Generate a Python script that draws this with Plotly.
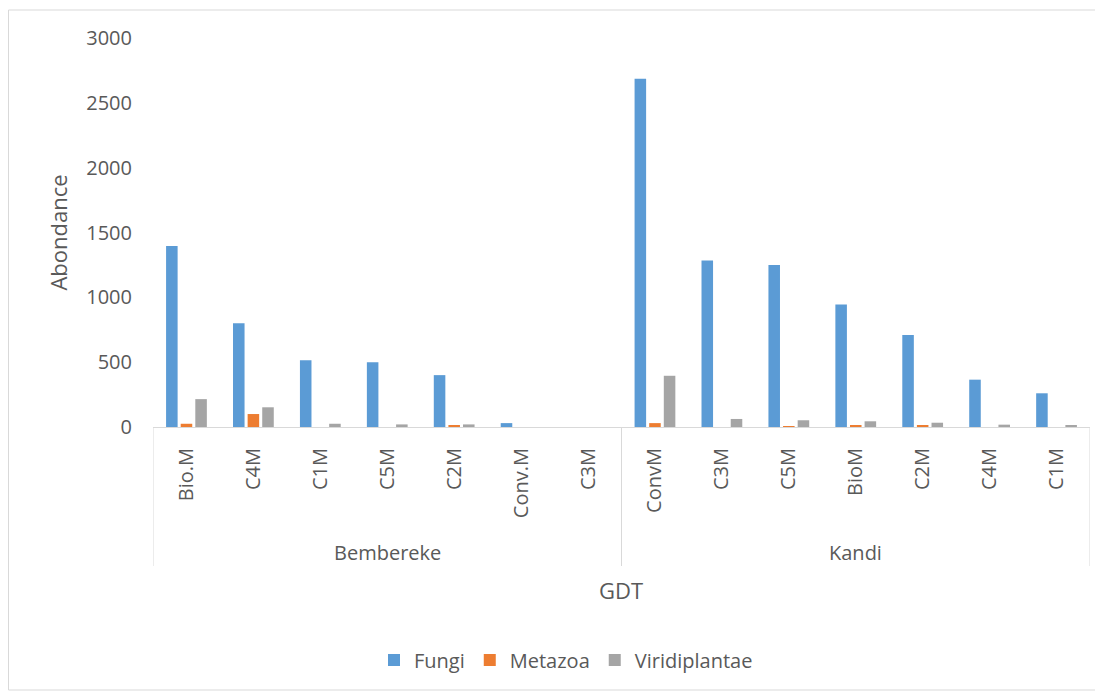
import plotly.graph_objects as go

sites = ["Bembereke"] * 7 + ["Kandi"] * 7
treatments = ["Bio.M", "C4M", "C1M", "C5M", "C2M", "Conv.M", "C3M",
              "ConvM", "C3M", "C5M", "BioM", "C2M", "C4M", "C1M"]

fungi = [1395, 800, 515, 500, 400, 30, 0,
         2685, 1285, 1250, 945, 710, 365, 260]
metazoa = [25, 100, 0, 0, 8, 0, 0,
           30, 0, 5, 8, 8, 0, 0]
viridiplantae = [215, 152, 25, 20, 20, 0, 0,
                 395, 62, 52, 44, 33, 18, 10]

TXT = "#595959"
GRID = "#D9D9D9"
FONT = "Open Sans"

# unique keys so repeated treatment names stay in their own site
keys = [f"{s} / {t}" for s, t in zip(sites, treatments)]

fig = go.Figure()
for name, vals, col in [("Fungi", fungi, "#5B9BD5"),
                        ("Metazoa", metazoa, "#ED7D31"),
                        ("Viridiplantae", viridiplantae, "#A5A5A5")]:
    fig.add_trace(go.Bar(x=keys, y=vals, name=name,
                         marker=dict(color=col, line=dict(width=0))))

# page has an 8px body margin, so the figure is a bit smaller than the window
OFF = 8
W, H = 1095, 683
ml, mr, mt, mb = 145, 13, 30, 264
pw = W - ml - mr
ph = H - mt - mb

def py(pix):
    # page pixel row -> paper y
    return (H - mb - (pix - OFF)) / ph

def px(pix):
    return (pix - OFF - ml) / pw

fig.update_layout(
    width=W, height=H,
    margin=dict(l=ml, r=mr, t=mt, b=mb, autoexpand=False),
    barmode="group", bargap=0.345, bargroupgap=0.21,
    plot_bgcolor="white", paper_bgcolor="white",
    font=dict(family=FONT, color=TXT, size=20),
    legend=dict(orientation="h", x=px(566), xanchor="center", y=py(660), yanchor="middle",
                font=dict(size=20, color=TXT), itemwidth=30, tracegroupgap=0),
    showlegend=True,
)
fig.update_xaxes(type="category", range=[-0.5, len(keys) - 0.5],
                 tickmode="array", tickvals=keys, ticktext=treatments,
                 tickangle=-90, showline=True, linecolor=GRID, linewidth=1,
                 ticks="", ticklabelstandoff=12, automargin=False,
                 tickfont=dict(size=20, color=TXT))
fig.update_yaxes(range=[0, 3000], dtick=500, showgrid=False, zeroline=False,
                 showline=False, ticklabelstandoff=20, automargin=False,
                 tickfont=dict(size=20, color=TXT),
                 title=dict(text="Abondance", font=dict(size=22, color=TXT), standoff=12))

# group dividers under the axis
for xv in [-0.5, 6.5, len(keys) - 0.5]:
    fig.add_shape(type="line", xref="x", yref="paper", x0=xv, x1=xv,
                  y0=0, y1=py(566), line=dict(color=GRID, width=1))

# group labels
for label, idx in [("Bembereke", 3), ("Kandi", 10)]:
    fig.add_annotation(x=keys[idx], y=py(552), xref="x", yref="paper", text=label,
                       showarrow=False, font=dict(size=20, color=TXT), yanchor="middle")

fig.add_annotation(x=px(621), y=py(590), xref="paper", yref="paper", text="GDT",
                   showarrow=False, font=dict(size=22, color=TXT), yanchor="middle")

fig.add_shape(type="rect", xref="paper", yref="paper",
              x0=px(8.5), x1=px(1100), y0=py(690), y1=py(10),
              line=dict(color=GRID, width=1), fillcolor="rgba(0,0,0,0)", layer="below")

fig.write_html("out.html")
